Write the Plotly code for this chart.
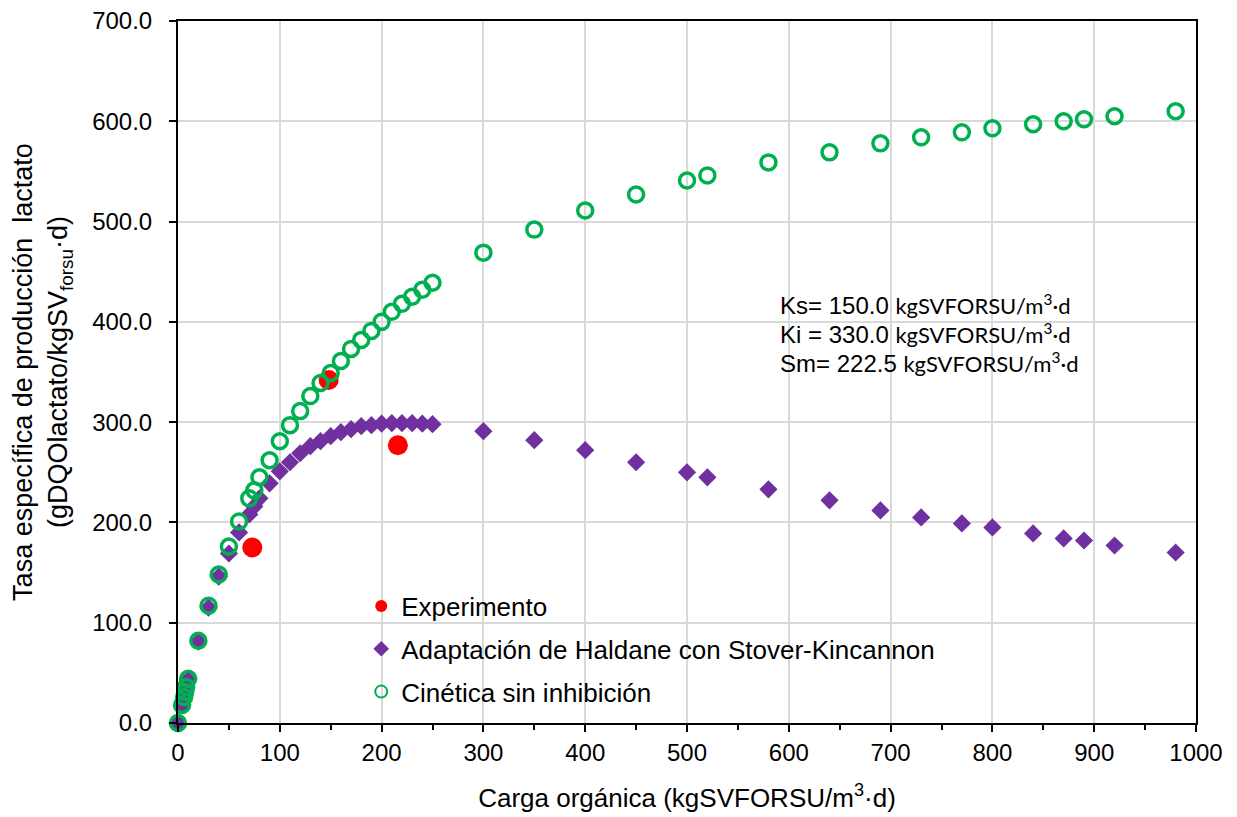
import plotly.graph_objects as go

# Experimental points
exp_x = [73, 148, 216]
exp_y = [175, 342, 277]

# Model loads (x)
model_x = [0, 4, 6, 7, 8, 10, 20, 30, 40, 50, 60, 70, 75, 80, 90, 100, 110, 120, 130, 140, 150,
           160, 170, 180, 190, 200, 210, 220, 230, 240, 250,
           300, 350, 400, 450, 500, 520, 580, 640, 690, 730, 770, 800, 840, 870, 890, 920, 980]

# Haldane / Stover-Kincannon adaptation
haldane_y = [0, 18, 25, 30, 35, 43, 81, 115, 146, 169, 190, 208, 216, 224, 239, 251, 260, 269, 276, 281, 286,
             290, 293, 296, 297, 298.5, 299, 299, 299, 298.5, 298,
             291, 282, 272, 260, 250, 245, 233, 222, 212, 205, 199, 195, 189, 184, 182, 177, 170]

# Kinetics without inhibition
monod_y = [0, 18, 26, 31, 36, 44, 82, 117, 148, 176, 201, 224, 232, 245, 262, 281, 297, 311, 326, 339, 349,
           361, 373, 382, 391, 400, 410, 418, 425, 432, 439,
           469, 492, 511, 527, 541, 546, 559, 569, 578, 584, 589, 593, 597, 600, 602, 605, 610]

param_labels = ["Ks= 150.0", "Ki = 330.0", "Sm= 222.5"]
param_unit = "kgSVFORSU/m<sup>3</sup>·d"

FONT = "Liberation Sans, Arial, sans-serif"

fig = go.Figure()
fig.add_trace(go.Scatter(
    x=exp_x, y=exp_y, mode="markers", name="Experimento", legendgroup="a",
    marker=dict(symbol="circle", size=20, color="#ff0000"), cliponaxis=False))
fig.add_trace(go.Scatter(
    x=model_x, y=haldane_y, mode="markers", name="Adaptación de Haldane con Stover-Kincannon",
    legendgroup="b",
    marker=dict(symbol="diamond", size=14, color="#7030a0"), cliponaxis=False))
fig.add_trace(go.Scatter(
    x=model_x, y=monod_y, mode="markers", name="Cinética sin inhibición", legendgroup="c",
    marker=dict(symbol="circle-open", size=15, color="#00b050", line=dict(width=3.5, color="#00b050")),
    cliponaxis=False))

ys = [304, 333, 362]
for lab, yp in zip(param_labels, ys):
    fig.add_annotation(
        x=589, y=(723 - yp) / 702, xref="x", yref="paper",
        text=f"{lab} <span style='font-family:Lato, sans-serif; font-size:22px'>{param_unit}</span>",
        showarrow=False, xanchor="left", yanchor="middle",
        font=dict(family=FONT, size=24, color="#000000"))

fig.update_layout(
    width=1237, height=817,
    margin=dict(l=170, r=49, t=13, b=102),
    paper_bgcolor="white", plot_bgcolor="white",
    font=dict(family=FONT, size=24, color="#000000"),
    showlegend=True,
    legend=dict(x=0.18, y=0.2, xanchor="left", yanchor="top",
                bgcolor="rgba(0,0,0,0)", font=dict(family=FONT, size=26, color="#000000"),
                itemsizing="constant", tracegroupgap=6, itemwidth=30),
)
fig.update_xaxes(
    range=[0, 1000], dtick=100, tick0=0, automargin=False,
    showline=True, linecolor="#000000", linewidth=2, mirror=True,
    ticks="outside", ticklen=7, tickcolor="#000000", tickwidth=2,
    minor=dict(dtick=50, ticks="outside", ticklen=5, tickcolor="#000000", tickwidth=2, showgrid=False),
    showgrid=True, gridcolor="#d9d9d9", gridwidth=1.5, zeroline=False,
    tickfont=dict(size=24), ticklabeloverflow="allow",
    title=dict(text="Carga orgánica (kgSVFORSU/m<sup>3</sup>·d)", font=dict(size=26), standoff=24),
)
fig.update_yaxes(
    range=[0, 700], dtick=100, tick0=0, tickformat=".1f", automargin=False,
    showline=True, linecolor="#000000", linewidth=2, mirror=True,
    ticks="outside", ticklen=7, tickcolor="#000000", tickwidth=2,
    showgrid=True, gridcolor="#d9d9d9", gridwidth=1.5, zeroline=False,
    tickfont=dict(size=24), ticklabeloverflow="allow", ticklabelstandoff=12,
    title=dict(text="Tasa específica de producción  lactato<br>(gDQOlactato/kgSV<sub>forsu</sub>·d)",
               font=dict(size=27), standoff=38),
)

fig.write_html("out.html")
